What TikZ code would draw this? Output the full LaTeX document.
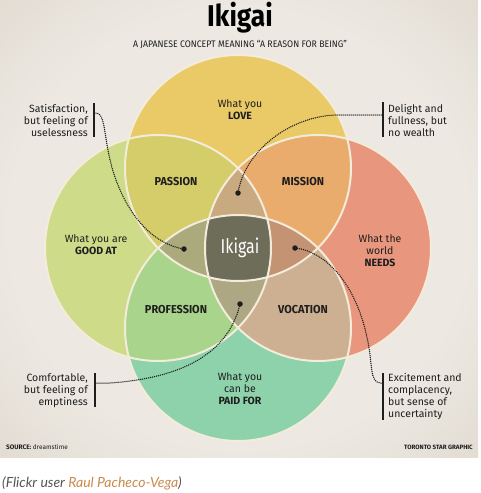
\documentclass[tikz,border=0pt]{standalone}
\usepackage{fontspec}
\setmainfont{Fira Sans}
\newfontfamily\capfont{Lato}
\definecolor{bgin}{HTML}{EDE9E2}
\definecolor{bgmid}{HTML}{D8D0C5}
\definecolor{bgout}{HTML}{A89D8F}
\definecolor{cTc}{HTML}{EAC967}
\definecolor{cLc}{HTML}{CEDC8A}
\definecolor{cRc}{HTML}{E8977E}
\definecolor{cBc}{HTML}{8ED2AC}
\definecolor{passionc}{HTML}{D5CC6A}
\definecolor{missionc}{HTML}{E9AC6C}
\definecolor{professionc}{HTML}{A9D48B}
\definecolor{vocationc}{HTML}{CDAF91}
\definecolor{triTc}{HTML}{C9A97F}
\definecolor{triLc}{HTML}{AAAA7C}
\definecolor{triRc}{HTML}{C39374}
\definecolor{triBc}{HTML}{ADA883}
\definecolor{centerc}{HTML}{6E6D5A}
\definecolor{ringc}{HTML}{F3ECDB}
\definecolor{inkc}{HTML}{1E1E1E}
\definecolor{capgray}{HTML}{555555}
\definecolor{caporange}{HTML}{C98A4E}
\pgfdeclareradialshading{vignette}{\pgfpoint{0bp}{0bp}}{color(0bp)=(bgin); color(24bp)=(bgin); color(46bp)=(bgmid); color(71bp)=(bgout)}
\begin{document}
\begin{tikzpicture}[x=1pt,y=-1pt,
  lbl/.style={font=\fontsize{10.5}{12}\selectfont, text=inkc, align=center, inner sep=0pt},
  blbl/.style={font=\fontsize{11.5}{12}\selectfont\bfseries, text=inkc, inner sep=0pt, xscale=0.95},
  note/.style={font=\fontsize{10.5}{12}\selectfont, text=inkc, inner sep=0pt},
  bar/.style={draw=inkc, line width=2.4pt},
  conn/.style={draw=inkc, line width=1.5pt, line cap=round, dash pattern=on 0pt off 2pt},
  dotn/.style={circle, fill=inkc, inner sep=0pt, minimum size=5.5pt},
  ring/.style={draw=ringc, line width=2pt}]
\useasboundingbox (0,0) rectangle (480,493);
\fill[white] (0,0) rectangle (480,493);
\shade[shading=vignette] (0,0) rectangle (478,457);
\def\cT{(238,168) circle[radius=113pt]}
\def\cL{(158,248) circle[radius=113pt]}
\def\cR{(318,248) circle[radius=113pt]}
\def\cB{(238,328) circle[radius=113pt]}
% single circles
\fill[cTc] \cT; \fill[cLc] \cL; \fill[cRc] \cR; \fill[cBc] \cB;
% pairs
\begin{scope}\clip \cT; \fill[passionc] \cL; \fill[missionc] \cR; \end{scope}
\begin{scope}\clip \cB; \fill[professionc] \cL; \fill[vocationc] \cR; \end{scope}
% triples
\begin{scope}\clip \cL; \clip \cR; \fill[triTc] \cT; \fill[triBc] \cB; \end{scope}
\begin{scope}\clip \cT; \clip \cB; \fill[triLc] \cL; \fill[triRc] \cR; \end{scope}
% centre
\begin{scope}\clip \cT; \clip \cB; \clip \cL; \fill[centerc] \cR; \end{scope}
% outlines
\draw[ring] \cT; \draw[ring] \cL; \draw[ring] \cR; \draw[ring] \cB;
% title
\node[font=\fontsize{30}{32}\selectfont\bfseries, text=black, xscale=0.88, inner sep=0pt] (title) at (240,18) {Ikigai};
\node[font=\fontsize{9.5}{10}\selectfont, text=inkc, xscale=0.92, inner sep=0pt] (sub) at (240,45) {A JAPANESE CONCEPT MEANING “A REASON FOR BEING”};
% circle labels
\node[lbl] (love) at (240,110) {What you\\\textbf{LOVE}};
\node[lbl] (good) at (96,245) {What you are\\\textbf{GOOD AT}};
\node[lbl] (needs) at (380,251) {What the\\world\\\textbf{NEEDS}};
\node[lbl] (paid) at (240,389) {What you\\can be\\\textbf{PAID FOR}};
\node[blbl] (passion) at (176,182) {PASSION};
\node[blbl] (mission) at (303,182) {MISSION};
\node[blbl] (profession) at (176,310) {PROFESSION};
\node[blbl] (vocation) at (303,310) {VOCATION};
\node[font=\fontsize{20}{22}\selectfont, text=white, xscale=0.8, inner sep=0pt] (ikigai) at (240,248) {Ikigai};
% notes
\node[note, align=right, anchor=east] (n1) at (88,120) {Satisfaction,\\but feeling of\\uselessness};
\node[note, align=left, anchor=west] (n2) at (388,120) {Delight and\\fullness, but\\no wealth};
\node[note, align=right, anchor=east] (n3) at (88,391) {Comfortable,\\but feeling of\\emptiness};
\node[note, align=left, anchor=west] (n4) at (388,397) {Excitement and\\complacency,\\but sense of\\uncertainty};
% bars
\coordinate (b1t) at (94,103); \coordinate (b1b) at (94,137);
\coordinate (b2t) at (383,102); \coordinate (b2b) at (383,137);
\coordinate (b3t) at (95,373); \coordinate (b3b) at (95,407);
\coordinate (b4t) at (383,373); \coordinate (b4b) at (383,420);
\draw[bar] (b1t) -- (b1b);
\draw[bar] (b2t) -- (b2b);
\draw[bar] (b3t) -- (b3b);
\draw[bar] (b4t) -- (b4b);
% dots
\node[dotn] (d1) at (184,249) {};
\node[dotn] (d2) at (238,193) {};
\node[dotn] (d3) at (240,304) {};
\node[dotn] (d4) at (295,248) {};
% connectors
\coordinate (s1) at (96,113); \coordinate (s2) at (381,115);
\coordinate (s3) at (97,383); \coordinate (s4) at (381,383);
\draw[conn] (s1) .. controls (104,113) and (104,130) .. (108,150) .. controls (116,195) and (142,242) .. (d1.center);
\draw[conn] (s2) -- (335,115) .. controls (290,117) and (245,150) .. (d2.center);
\draw[conn] (s3) -- (110,383) .. controls (180,378) and (228,355) .. (d3.center);
\draw[conn] (s4) .. controls (372,383) and (372,372) .. (370,355) .. controls (362,292) and (330,252) .. (d4.center);
% credits
\node[font=\fontsize{6.5}{7}\selectfont\bfseries, text=inkc, anchor=west, inner sep=0pt] (src) at (6,447) {SOURCE: \mdseries dreamstime};
\node[font=\fontsize{6.2}{7}\selectfont\bfseries, text=inkc, anchor=east, inner sep=0pt] (tsg) at (473,447) {TORONTO STAR GRAPHIC};
\node[font=\capfont\itshape\fontsize{14}{16}\selectfont, text=capgray, anchor=west, inner sep=0pt] (cap) at (2,483) {(Flickr user \textcolor{caporange}{Raul Pacheco-Vega})};
\end{tikzpicture}
\end{document}
